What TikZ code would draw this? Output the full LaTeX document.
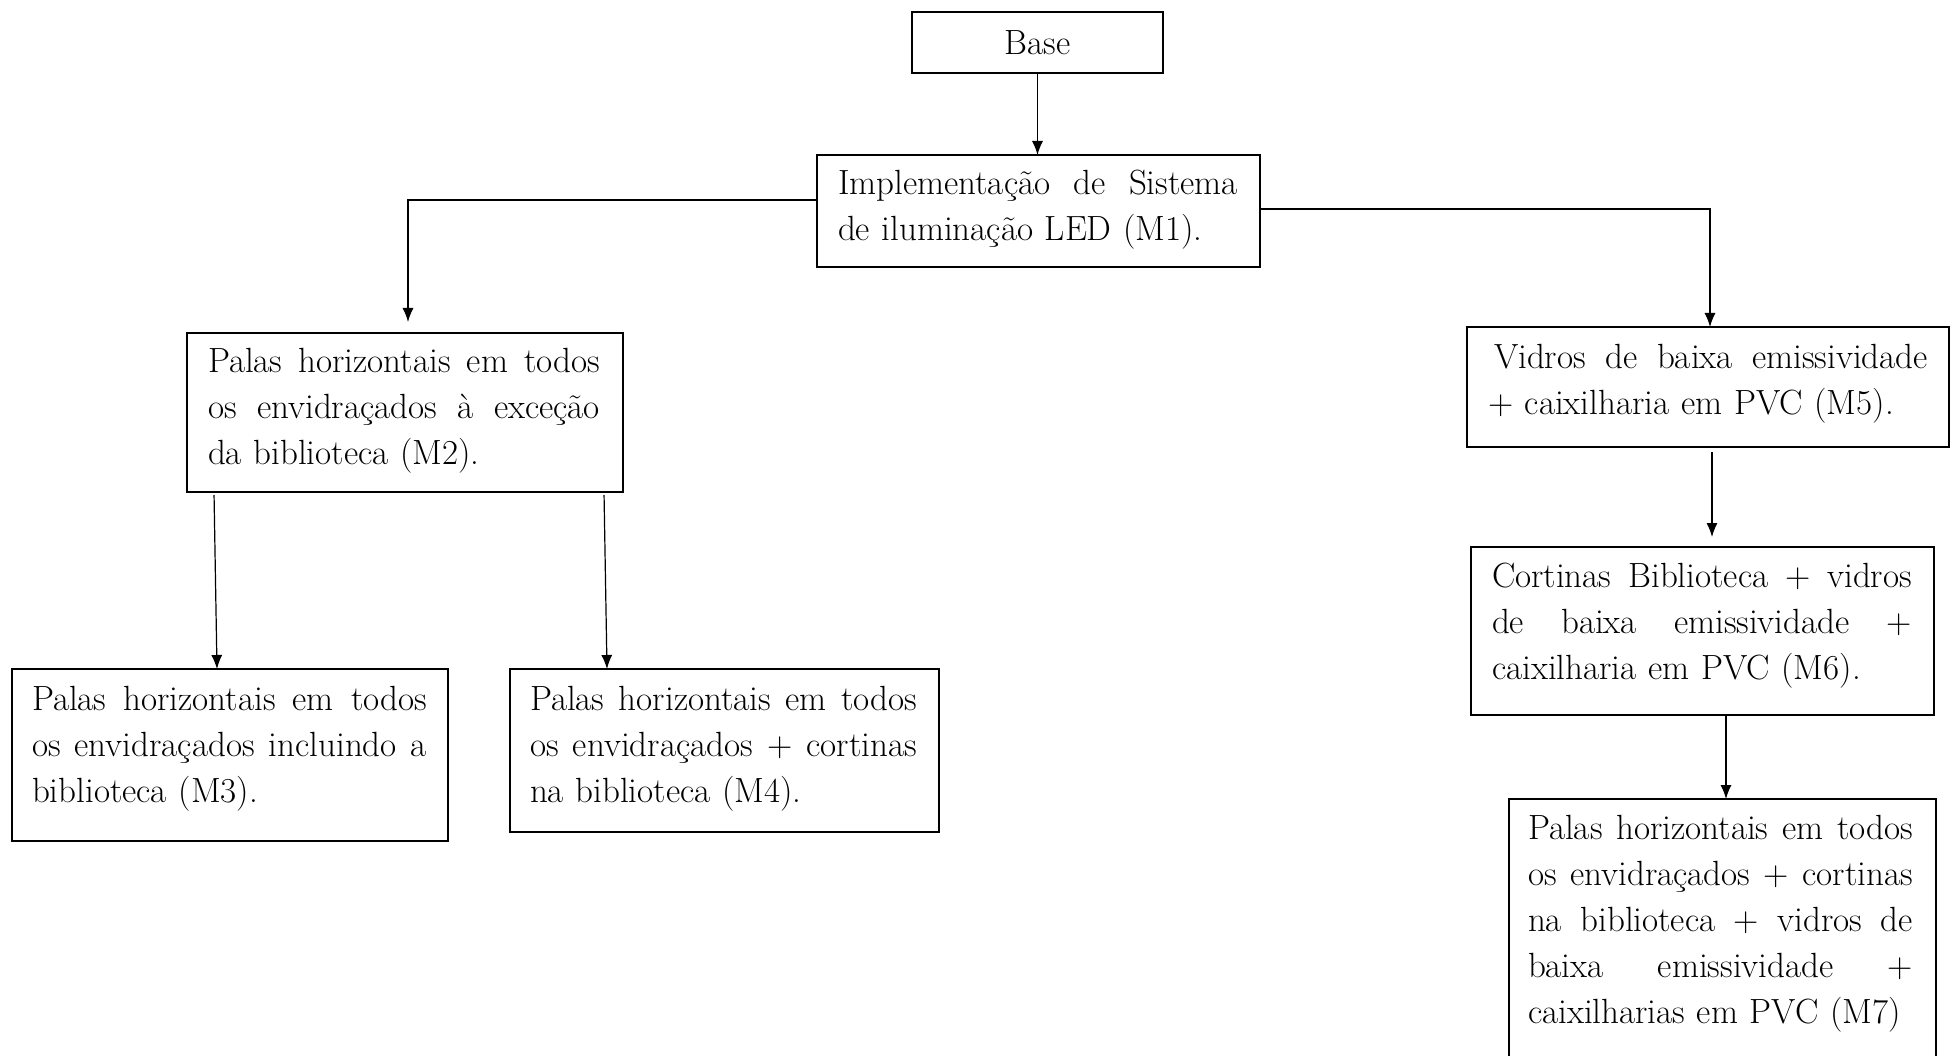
\documentclass[tikz,border=0pt]{standalone}
\usepackage{fontspec}
\usetikzlibrary{arrows.meta}
\newcommand\jline[2]{\leavevmode\hbox to #1{#2}}
\newcommand\gap{\hfill}
\begin{document}
\begin{tikzpicture}[x=1pt,y=-1pt,
  mbox/.style={draw, line width=1.6pt, inner sep=0pt, outer sep=0pt, anchor=north west, rectangle},
  mtxt/.style={anchor=base west, inner sep=0pt, outer sep=0pt, align=left, font=\fontsize{35}{46}\selectfont},
  arr/.style={line width=1.2pt, -{Latex[length=14pt,width=11pt]}}]
\useasboundingbox (0,0) rectangle (1952,1056);
\fill[white] (0,0) rectangle (1952,1056);
\clip (0,0) rectangle (1952,1056);

% boxes
\node[mbox, minimum width=251pt, minimum height=61pt, font=\fontsize{35}{46}\selectfont] (base) at (912,12) {Base};
\node[mbox, minimum width=443pt, minimum height=112pt] (m1) at (817,155) {};
\node[mbox, minimum width=436pt, minimum height=159pt] (m2) at (187,333) {};
\node[mbox, minimum width=436pt, minimum height=172pt] (m3) at (12,669) {};
\node[mbox, minimum width=429pt, minimum height=163pt] (m4) at (510,669) {};
\node[mbox, minimum width=482pt, minimum height=120pt] (m5) at (1467,327) {};
\node[mbox, minimum width=463pt, minimum height=168pt] (m6) at (1471,547) {};
\node[mbox, minimum width=427pt, minimum height=320pt] (m7) at (1509,799) {};

% texts
\node[mtxt, text width=400pt] (t1) at (838,195)
  {\jline{400pt}{Implementação\gap de\gap Sistema}\\de iluminação LED (M1).};
\node[mtxt, text width=392pt] (t2) at (208,373)
  {\jline{392pt}{Palas\gap horizontais\gap em\gap todos}\\\jline{392pt}{os\gap envidraçados\gap à\gap exceção}\\da biblioteca (M2).};
\node[mtxt, text width=395pt] (t3) at (32,710)
  {\jline{395pt}{Palas\gap horizontais\gap em\gap todos}\\\jline{395pt}{os\gap envidraçados\gap incluindo\gap a}\\biblioteca (M3).};
\node[mtxt, text width=387pt] (t4) at (530,710)
  {\jline{387pt}{Palas\gap horizontais\gap em\gap todos}\\\jline{387pt}{os\gap envidraçados\gap +\gap cortinas}\\na biblioteca (M4).};
\node[mtxt, text width=440pt] (t5) at (1488,369)
  {\jline{440pt}{\hspace{6pt}Vidros\gap de\gap baixa\gap emissividade}\\+ caixilharia em PVC (M5).};
\node[mtxt, text width=420pt] (t6) at (1492,587)
  {\jline{420pt}{Cortinas\gap Biblioteca\gap +\gap vidros}\\\jline{420pt}{de\gap baixa\gap emissividade\gap +}\\caixilharia em PVC (M6).};
\node[mtxt, text width=385pt] (t7) at (1528,839)
  {\jline{385pt}{Palas\gap horizontais\gap em\gap todos}\\\jline{385pt}{os\gap envidraçados\gap +\gap cortinas}\\\jline{385pt}{na\gap biblioteca\gap +\gap vidros\gap de}\\\jline{385pt}{baixa\gap emissividade\gap +}\\caixilharias em PVC (M7)};

% connectors
\draw[arr] (base.south) -- (base.south |- m1.north);
\draw[arr, shorten >=11pt] ([yshift=11pt]m1.west) -| ([xshift=3pt]m2.north);
\draw[arr] ([yshift=2pt]m1.east) -| ([xshift=2pt]m5.north);
\draw[arr, shorten <=5pt, shorten >=10pt] ([xshift=4pt]m5.south) -- ([xshift=4pt]m5.south |- m6.north);
\draw[arr] ([xshift=3.5pt]m7.north |- m6.south) -- ([xshift=3.5pt]m7.north);
\draw[arr, shorten <=3pt] ([xshift=27pt]m2.south west) -- ([xshift=-13pt]m3.north);
\draw[arr, shorten <=3pt] ([xshift=-19pt]m2.south east) -- ([xshift=97pt]m4.north west);
\end{tikzpicture}
\end{document}
